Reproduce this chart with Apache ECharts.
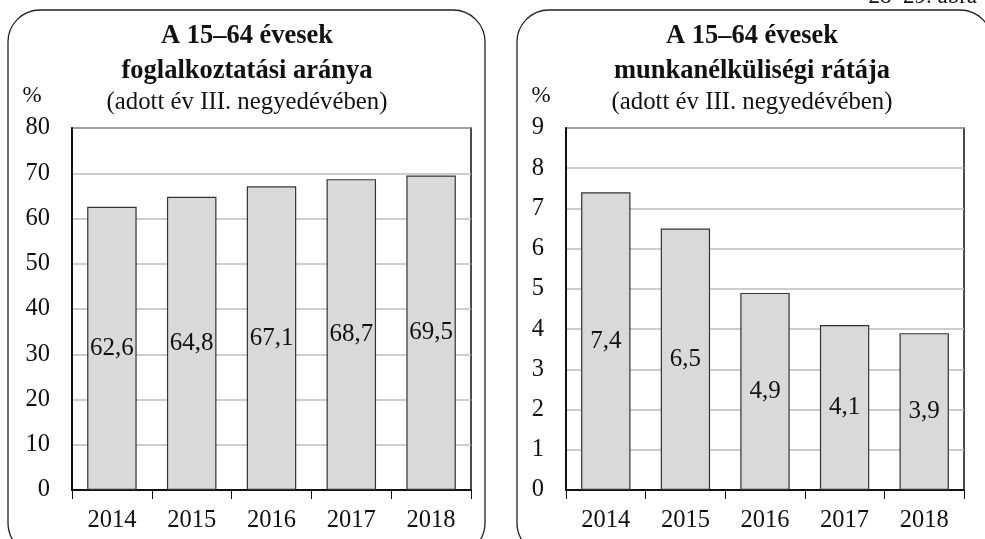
<!DOCTYPE html>
<html>
<head>
<meta charset="utf-8">
<script src="https://cdn.jsdelivr.net/npm/echarts@6/dist/echarts.min.js"></script>
<style>
  html, body { margin: 0; padding: 0; background: #fff; }
  #chart { width: 985px; height: 539px; }
</style>
</head>
<body>
<div id="chart"></div>
<script>
const years = ['2014', '2015', '2016', '2017', '2018'];
const employment = [62.6, 64.8, 67.1, 68.7, 69.5];
const unemployment = [7.4, 6.5, 4.9, 4.1, 3.9];

const font = '"Liberation Serif", "DejaVu Serif", serif';
const chart = echarts.init(document.getElementById('chart'), null, { renderer: 'canvas' });

function comma(p) {
  return p.value.toFixed(1).replace('.', ',');
}

function xAxis(idx) {
  return {
    type: 'category', gridIndex: idx, data: years,
    axisLine: { lineStyle: { color: '#111', width: 2 } },
    axisTick: { show: true, length: 9, lineStyle: { color: '#111', width: 1 } },
    axisLabel: { color: '#111', fontFamily: font, fontSize: 24.5, margin: 18 }
  };
}
function yAxis(idx, max) {
  return {
    type: 'value', gridIndex: idx, min: 0, max: max, interval: max === 80 ? 10 : 1,
    axisLine: { show: true, lineStyle: { color: '#111', width: 2 } },
    axisTick: { show: false },
    splitLine: { lineStyle: { color: '#bdbdbd', width: 1.5 } },
    axisLabel: { color: '#111', fontFamily: font, fontSize: 24.5, margin: 22 }
  };
}
function bars(idx, data) {
  return {
    type: 'bar', xAxisIndex: idx, yAxisIndex: idx, data: data, barWidth: '62%',
    itemStyle: { color: '#d9d9da', borderColor: '#333', borderWidth: 1.2 },
    label: { show: true, position: 'inside', formatter: comma, color: '#111', fontFamily: font, fontSize: 25 }
  };
}

function txt(x, y, text, size, bold, align) {
  return {
    type: 'text', z: 10,
    style: { x: x, y: y, text: text, fill: '#111', font: (bold ? 'bold ' : '') + size + 'px ' + font, align: align || 'center', verticalAlign: 'middle' }
  };
}

chart.setOption({
  backgroundColor: '#fff',
  animation: false,
  grid: [
    { left: 72, top: 128, width: 399, height: 362, show: true, borderColor: '#111', borderWidth: 1.5, backgroundColor: '#fff' },
    { left: 566, top: 128, width: 398, height: 362, show: true, borderColor: '#111', borderWidth: 1.5, backgroundColor: '#fff' }
  ],
  xAxis: [xAxis(0), xAxis(1)],
  yAxis: [yAxis(0, 80), yAxis(1, 9)],
  series: [bars(0, employment), bars(1, unemployment)],
  graphic: [
    { type: 'rect', z: -10, shape: { x: 8, y: 10, width: 477, height: 545, r: 32 }, style: { fill: '#fff', stroke: '#222', lineWidth: 1.3 } },
    { type: 'rect', z: -10, shape: { x: 517, y: 10, width: 475, height: 545, r: 32 }, style: { fill: '#fff', stroke: '#222', lineWidth: 1.3 } },
    txt(247, 36, 'A 15–64 évesek', 26.5, true),
    txt(247, 71, 'foglalkoztatási aránya', 26.5, true),
    txt(247, 102, '(adott év III. negyedévében)', 24.8, false),
    txt(752, 36, 'A 15–64 évesek', 26.5, true),
    txt(752, 71, 'munkanélküliségi rátája', 26.5, true),
    txt(752, 102, '(adott év III. negyedévében)', 24.8, false),
    txt(32, 96, '%', 23, false),
    txt(541, 96, '%', 23, false),
    txt(977, -3, '28–29. ábra', 23, false, 'right')
  ]
});
</script>
</body>
</html>
